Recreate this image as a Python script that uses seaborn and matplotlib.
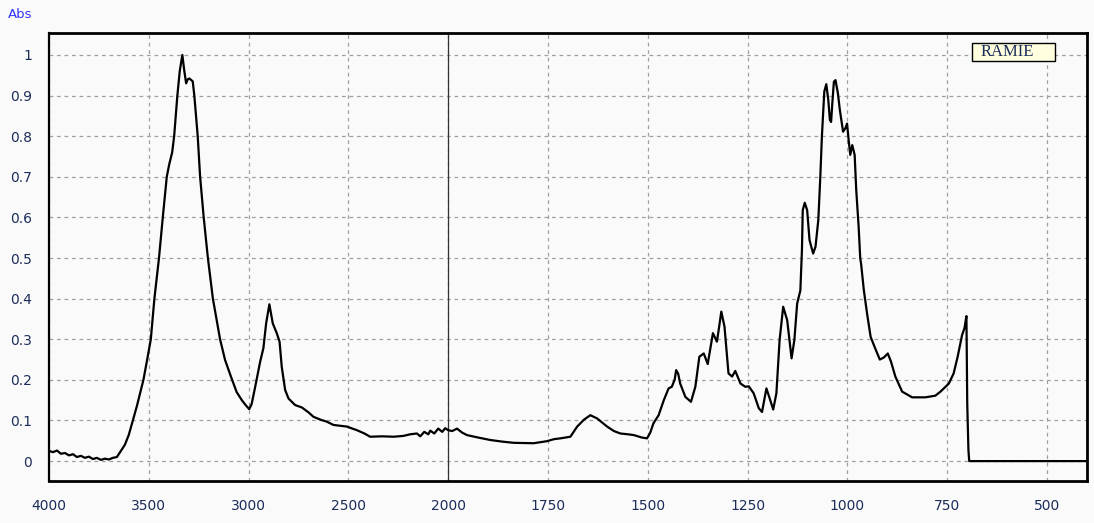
import numpy as np
import pandas as pd
import matplotlib
matplotlib.use("Agg")
import matplotlib.pyplot as plt
from matplotlib.patches import Rectangle
import seaborn as sns

wavenumber = [
    4000, 3980, 3960, 3940, 3920, 3900, 3880, 3860, 3840, 3820, 3800, 3780, 3760, 3740,
    3720, 3700, 3680, 3660, 3640, 3620, 3600, 3580, 3560, 3540, 3527, 3510, 3490, 3472,
    3449, 3430, 3410, 3398, 3383, 3373, 3357, 3345, 3332, 3322, 3313, 3305, 3297, 3280,
    3272, 3255, 3243, 3225, 3204, 3179, 3143, 3118, 3090, 3060, 3034, 3015, 2997, 2985,
    2967, 2942, 2926, 2912, 2896, 2879, 2859, 2845, 2834, 2817, 2800, 2767, 2733, 2700,
    2675, 2640, 2608, 2575, 2540, 2508, 2457, 2420, 2391, 2330, 2274, 2225, 2190, 2157,
    2140, 2120, 2100, 2090, 2070, 2050, 2030, 2015, 2000, 1990, 1978, 1965, 1953, 1925,
    1895, 1865, 1836, 1786, 1753, 1735, 1719, 1694, 1677, 1660, 1644, 1627, 1602, 1585,
    1569, 1550, 1535, 1515, 1502, 1494, 1486, 1473, 1460, 1448, 1440, 1433, 1429, 1424,
    1419, 1406, 1392, 1381, 1371, 1360, 1350, 1337, 1327, 1323, 1316, 1308, 1298, 1289,
    1281, 1268, 1256, 1247, 1235, 1222, 1214, 1203, 1196, 1186, 1178, 1170, 1161, 1151,
    1140, 1133, 1126, 1118, 1114, 1112, 1107, 1101, 1095, 1086, 1080, 1073, 1068, 1064,
    1061, 1058, 1053, 1048, 1044, 1041, 1038, 1034, 1030, 1024, 1019, 1011, 1005, 1001,
    997, 993, 988, 982, 978, 972, 968, 966, 959, 951, 942, 932, 919, 909, 899, 891,
    880, 863, 838, 805, 780, 767, 746, 734, 724, 713, 707, 702, 700, 697, 695, 400,
]
absorbance = [
    0.025, 0.022, 0.026, 0.018, 0.020, 0.014, 0.017, 0.010, 0.013, 0.008, 0.011, 0.005, 0.008, 0.003,
    0.006, 0.004, 0.008, 0.010, 0.025, 0.040, 0.065, 0.100, 0.135, 0.175, 0.200, 0.245, 0.300, 0.400,
    0.500, 0.600, 0.700, 0.730, 0.760, 0.800, 0.900, 0.960, 1.000, 0.960, 0.930, 0.940, 0.942, 0.935,
    0.900, 0.800, 0.700, 0.600, 0.500, 0.400, 0.300, 0.249, 0.210, 0.170, 0.150, 0.138, 0.128, 0.140,
    0.183, 0.245, 0.278, 0.340, 0.386, 0.339, 0.315, 0.294, 0.232, 0.175, 0.154, 0.138, 0.132, 0.120,
    0.109, 0.102, 0.097, 0.089, 0.087, 0.085, 0.076, 0.068, 0.060, 0.061, 0.060, 0.062, 0.066, 0.068,
    0.061, 0.072, 0.066, 0.075, 0.068, 0.080, 0.072, 0.081, 0.076, 0.074, 0.080, 0.070, 0.064, 0.058,
    0.052, 0.048, 0.045, 0.044, 0.049, 0.054, 0.056, 0.060, 0.085, 0.102, 0.113, 0.105, 0.085, 0.074,
    0.068, 0.066, 0.064, 0.058, 0.056, 0.070, 0.093, 0.113, 0.150, 0.179, 0.183, 0.200, 0.224, 0.215,
    0.191, 0.158, 0.146, 0.183, 0.257, 0.265, 0.239, 0.315, 0.294, 0.320, 0.368, 0.331, 0.216, 0.208,
    0.222, 0.191, 0.183, 0.184, 0.167, 0.130, 0.121, 0.179, 0.158, 0.127, 0.167, 0.298, 0.380, 0.347,
    0.253, 0.298, 0.388, 0.420, 0.520, 0.618, 0.636, 0.618, 0.544, 0.511, 0.528, 0.594, 0.700, 0.800,
    0.856, 0.910, 0.928, 0.889, 0.840, 0.835, 0.880, 0.934, 0.938, 0.906, 0.864, 0.811, 0.820, 0.831,
    0.790, 0.754, 0.778, 0.754, 0.667, 0.577, 0.499, 0.487, 0.421, 0.364, 0.306, 0.281, 0.250, 0.255, 0.265, 0.245,
    0.208, 0.171, 0.157, 0.157, 0.161, 0.171, 0.191, 0.216, 0.257, 0.310, 0.327, 0.357, 0.143, 0.027, 0.000, 0.000,
]
x_ticks = [4000, 3500, 3000, 2500, 2000, 1750, 1500, 1250, 1000, 750, 500]
y_ticks = [0, 0.1, 0.2, 0.3, 0.4, 0.5, 0.6, 0.7, 0.8, 0.9, 1.0]
sample_label = "RAMIE"
y_label = "Abs"

df = pd.DataFrame({"wavenumber": wavenumber, "absorbance": absorbance})

sns.set_style("white")
plt.rcParams["font.family"] = ["DejaVu Sans"]

bg = "#fafafa"
fig = plt.figure(figsize=(10.94, 5.23), dpi=100, facecolor=bg)
ax = fig.add_axes([49 / 1094, 1 - 481 / 523, 1038 / 1094, 448 / 523])
ax.set_facecolor(bg)


def fwd(x):
    x = np.asarray(x, dtype=float)
    return np.where(x >= 2000, x, 2 * x - 2000)


def inv(u):
    u = np.asarray(u, dtype=float)
    return np.where(u >= 2000, u, (u + 2000) / 2)


ax.set_xscale("function", functions=(fwd, inv))

sns.lineplot(data=df, x="wavenumber", y="absorbance", ax=ax, color="black",
             linewidth=1.6, sort=False, estimator=None, zorder=3)

ax.set_xlim(4000, 400)
ax.set_ylim(-0.049, 1.054)
ax.set_xticks(x_ticks)
ax.set_xticklabels([str(t) for t in x_ticks])
ax.set_yticks(y_ticks)
ax.set_yticklabels([f"{t:g}" for t in y_ticks])
ax.minorticks_off()
ax.set_xlabel("")
ax.set_ylabel("")

ax.grid(True, color="#a0a0a0", linestyle=(0, (3, 3)), linewidth=0.9, zorder=0)
ax.axvline(2000, color="#333333", linewidth=0.9, zorder=2)

for side in ["top", "right", "bottom"]:
    ax.spines[side].set_color("black")
    ax.spines[side].set_linewidth(2)
ax.spines["left"].set_color("black")
ax.spines["left"].set_linewidth(1.6)

label_color = "#1c2d5a"
ax.tick_params(axis="y", direction="out", length=9, width=1.2, color="#333333",
               labelsize=10, labelcolor=label_color, pad=3)
ax.tick_params(axis="x", direction="out", length=7, width=1.2, color="#333333",
               labelsize=10, labelcolor=label_color, pad=6)

# sample name box
box_x0 = (972 - 49) / 1038
box_x1 = (1055 - 49) / 1038
box_y0 = (481 - 61) / 448
box_y1 = (481 - 43) / 448
ax.add_patch(Rectangle((box_x0, box_y0), box_x1 - box_x0, box_y1 - box_y0,
                       transform=ax.transAxes, facecolor="#ffffe0", edgecolor="black",
                       linewidth=1, zorder=5, clip_on=False))
ax.text((981 - 49) / 1038, (box_y0 + box_y1) / 2, sample_label, transform=ax.transAxes,
        ha="left", va="center", fontsize=12, color="#1c2d5a", family="Liberation Serif",
        zorder=6)

fig.text(8 / 1094, 1 - 15 / 523, y_label, ha="left", va="center", fontsize=9.5,
         color="#3333ff")

fig.savefig("out.png", dpi=100, facecolor=bg)
